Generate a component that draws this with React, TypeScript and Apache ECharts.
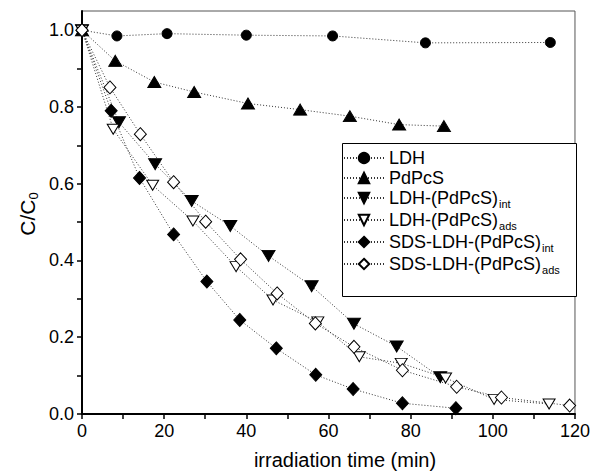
import React, { useEffect, useRef } from "react";
import * as echarts from "echarts";

const seriesNames = [
  "LDH",
  "PdPcS",
  "LDH-(PdPcS)_int",
  "LDH-(PdPcS)_ads",
  "SDS-LDH-(PdPcS)_int",
  "SDS-LDH-(PdPcS)_ads",
];

const ldhT = [0, 8.5, 20.7, 40, 61, 83.6, 114];
const ldhV = [1.0, 0.985, 0.991, 0.987, 0.985, 0.967, 0.968];

const pdT = [0, 8.1, 17.6, 27.3, 40.4, 53.1, 65.2, 77.2, 88.1];
const pdV = [1.0, 0.92, 0.865, 0.839, 0.809, 0.793, 0.776, 0.754, 0.75];

const ldhIntT = [0, 9, 17.8, 26.7, 36.1, 45.4, 55.9, 66.2, 76.6, 87.2];
const ldhIntV = [1.0, 0.76, 0.651, 0.555, 0.49, 0.412, 0.333, 0.235, 0.176, 0.096];

const ldhAdsT = [0, 7.6, 17.2, 27, 37.5, 46.5, 57.4, 67.5, 77.7, 88.5, 100.3, 113.7];
const ldhAdsV = [1.0, 0.742, 0.596, 0.503, 0.384, 0.297, 0.24, 0.149, 0.132, 0.094, 0.038, 0.026];

const sdsIntT = [0, 7.1, 14, 22.3, 30.4, 38.4, 47.3, 56.9, 66, 78, 91];
const sdsIntV = [1.0, 0.79, 0.615, 0.468, 0.345, 0.245, 0.171, 0.102, 0.065, 0.028, 0.015];

const sdsAdsT = [0, 6.8, 14.2, 22.3, 30.1, 38.6, 47.5, 56.8, 66.2, 78, 91.2, 102.1, 118.7];
const sdsAdsV = [1.0, 0.851, 0.729, 0.604, 0.501, 0.403, 0.314, 0.236, 0.175, 0.114, 0.071, 0.043, 0.022];

const xTickValues = [0, 10, 20, 30, 40, 50, 60, 70, 80, 90, 100, 110, 120];
const xLabelValues = [0, 20, 40, 60, 80, 100, 120];
const yTickValues = [0, 0.1, 0.2, 0.3, 0.4, 0.5, 0.6, 0.7, 0.8, 0.9, 1.0];
const yLabelValues = [0, 0.2, 0.4, 0.6, 0.8, 1.0];

const FONT = "Liberation Sans, Arial, Helvetica, sans-serif";

function zip(t: number[], v: number[]) {
  return t.map((x, i) => [x, v[i]]);
}

export default function App() {
  const ref = useRef<HTMLDivElement>(null);
  useEffect(() => {
    if (!ref.current) return;
    const chart = echarts.init(ref.current, null, { renderer: "svg" });
    const line = { color: "#333", width: 1, type: [1, 2] as any };
    const filled = { color: "#000", borderColor: "#000", borderWidth: 1 };
    const open = { color: "#fff", borderColor: "#000", borderWidth: 1 };
    const mk = (
      name: string,
      t: number[],
      v: number[],
      symbol: string,
      size: any,
      style: any,
      rotate = 0
    ) => ({
      name,
      type: "line",
      data: zip(t, v),
      symbol,
      symbolSize: size,
      symbolRotate: rotate,
      showAllSymbol: true,
      itemStyle: style,
      lineStyle: line,
      z: 3,
    });
    chart.setOption({
      animation: false,
      backgroundColor: "#fff",
      textStyle: { fontFamily: FONT },
      grid: {
        left: 82,
        right: 15,
        top: 11,
        bottom: 58,
        show: true,
        borderColor: "#555",
        borderWidth: 1,
        backgroundColor: "transparent",
      },
      xAxis: {
        type: "value",
        min: 0,
        max: 120,
        interval: 10,
        axisLine: { show: true, lineStyle: { color: "#000", width: 2 } },
        axisTick: {
          show: true,
          inside: false,
          length: 5,
          customValues: xTickValues,
          lineStyle: { color: "#000", width: 1.5 },
        },
        axisLabel: {
          customValues: xLabelValues,
          fontSize: 18,
          color: "#000",
          margin: 8,
          fontFamily: FONT,
        },
        splitLine: { show: false },
      },
      yAxis: {
        type: "value",
        min: 0,
        max: 1.05,
        interval: 0.1,
        axisLine: { show: true, lineStyle: { color: "#000", width: 2 } },
        axisTick: {
          show: true,
          inside: false,
          length: 5,
          customValues: yTickValues,
          lineStyle: { color: "#000", width: 1.5 },
        },
        axisLabel: {
          customValues: yLabelValues,
          formatter: (v: number) => v.toFixed(1),
          fontSize: 18,
          color: "#000",
          margin: 8,
          fontFamily: FONT,
        },
        splitLine: { show: false },
      },
      legend: {
        show: true,
        orient: "vertical",
        left: 342,
        top: 143,
        z: 6,
        padding: [6, 18, 8, 1],
        itemGap: 2,
        itemWidth: 40,
        itemHeight: 13,
        selectedMode: false,
        data: seriesNames,
        formatter: (name: string) => {
          const parts = name.split("_");
          if (parts.length === 1) return "{m|" + parts[0] + "}";
          return "{m|" + parts[0] + "}{s|" + parts[1] + "}";
        },
        textStyle: {
          fontFamily: FONT,
          color: "#000",
          rich: {
            m: { fontSize: 18, fontFamily: FONT, color: "#000", height: 20 },
            s: {
              fontSize: 11,
              fontFamily: FONT,
              color: "#000",
              padding: [11, 0, 0, 1],
            },
          },
        },
      },
      graphic: [
        {
          type: "rect",
          z: 5,
          shape: { x: 342.5, y: 143.5, width: 234, height: 153 },
          style: { fill: "#fff", stroke: "#000", lineWidth: 1 },
        },
        {
          type: "text",
          x: 345,
          y: 460,
          style: {
            text: "irradiation time (min)",
            fontSize: 20,
            fontFamily: FONT,
            fill: "#000",
            align: "center",
            verticalAlign: "middle",
          },
        },
        {
          type: "text",
          x: 27,
          y: 214,
          rotation: Math.PI / 2,
          style: {
            text: "{a|C/C}{b|0}",
            align: "center",
            verticalAlign: "middle",
            fontFamily: FONT,
            fill: "#000",
            rich: {
              a: { fontSize: 21, fontFamily: FONT, fill: "#000" },
              b: { fontSize: 13, fontFamily: FONT, fill: "#000", padding: [12, 0, 0, 0] },
            },
          },
        },
      ],
      series: [
        mk(seriesNames[0], ldhT, ldhV, "circle", 10, filled),
        mk(seriesNames[1], pdT, pdV, "triangle", [13, 11], filled),
        mk(seriesNames[2], ldhIntT, ldhIntV, "triangle", [13, 11], filled, 180),
        mk(seriesNames[3], ldhAdsT, ldhAdsV, "triangle", [12, 10], open, 180),
        mk(seriesNames[4], sdsIntT, sdsIntV, "diamond", [12, 13], filled),
        mk(seriesNames[5], sdsAdsT, sdsAdsV, "diamond", [12, 13], open),
      ],
    });
    return () => chart.dispose();
  }, []);
  return (
    <div
      ref={ref}
      style={{ position: "fixed", left: 0, top: 0, width: 593, height: 472 }}
    />
  );
}
